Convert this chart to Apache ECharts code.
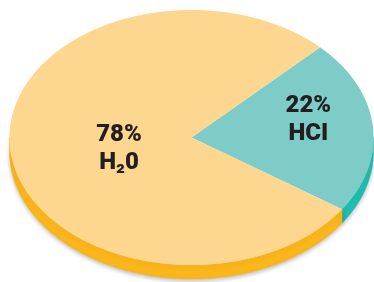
<!DOCTYPE html>
<html lang="en">
<head>
    <meta charset="utf-8" />
    <title>HCl solution</title>
    <script type="text/javascript" src="https://cdn.jsdelivr.net/npm/echarts@6/dist/echarts.min.js"></script>
    <style type="text/css">
        html, body { margin: 0; padding: 0; background: #fff; }
    </style>
</head>
<body>
    <div id="main" style="width:374px;height:282px;"></div>

    <script type="text/javascript">

        // data
        var names = ['HCI', 'H\u20820'];
        var values = [22, 78];

        // look
        var topColors = ['#7eccc7', '#fdd68f'];
        var sideColors = ['#22bdb1', '#fbb61b'];
        var labelPos = [[0.645, 0.08], [0.40, -0.05]]; // radius factor x / y

        var cx = 191.5, cy = 137.5, rx = 182, ry = 127.5, depth = 14;
        var startAngle = 45;
        var total = values.reduce(function (a, b) { return a + b; }, 0);

        function pt(t, dy) {
            var r = t * Math.PI / 180;
            return [cx + rx * Math.cos(r), cy + (dy || 0) - ry * Math.sin(r)];
        }

        function arcPts(a0, a1, dy) {
            // a0 -> a1, 1 deg steps
            var pts = [];
            var n = Math.max(2, Math.ceil(Math.abs(a1 - a0)));
            for (var i = 0; i <= n; i++) {
                pts.push(pt(a0 + (a1 - a0) * i / n, dy));
            }
            return pts;
        }

        var myChart = echarts.init(document.getElementById('main'));

        var option = {
            animation: false,
            series: [{
                type: 'custom',
                coordinateSystem: 'none',
                data: values,
                renderItem: function (params, api) {
                    var idx = params.dataIndex;
                    var before = 0;
                    for (var i = 0; i < idx; i++) before += values[i];
                    var a0 = startAngle - before / total * 360;
                    var a1 = a0 - api.value(0) / total * 360;

                    var children = [];

                    // visible side wall (front half: -180..0)
                    for (var k = -1; k <= 1; k++) {
                        var lo = Math.max(a1, -180 + k * 360);
                        var hi = Math.min(a0, 0 + k * 360);
                        if (hi > lo) {
                            var pts = arcPts(hi, lo, 0).concat(arcPts(lo, hi, depth));
                            children.push({
                                type: 'polygon',
                                shape: { points: pts },
                                style: {
                                    fill: sideColors[idx], stroke: sideColors[idx], lineWidth: 0.5,
                                    shadowBlur: 4, shadowOffsetY: 2, shadowColor: 'rgba(0,0,0,0.25)'
                                }
                            });
                        }
                    }

                    // top face
                    var face = [[cx, cy]].concat(arcPts(a0, a1, 0));
                    children.push({
                        type: 'polygon',
                        shape: { points: face },
                        style: { fill: topColors[idx] }
                    });

                    // label
                    var mid = (a0 + a1) / 2 * Math.PI / 180;
                    var lx = cx + labelPos[idx][0] * rx * Math.cos(mid);
                    var ly = cy - labelPos[idx][0] * ry * Math.sin(mid) - labelPos[idx][1] * ry;
                    var pct = Math.round(api.value(0) / total * 100) + '%';
                    children.push({
                        type: 'text',
                        style: {
                            text: pct + '\n' + names[idx],
                            x: lx,
                            y: ly,
                            align: 'center',
                            verticalAlign: 'middle',
                            fontFamily: 'Roboto',
                            fontWeight: 900,
                            fontSize: 24,
                            lineHeight: 28,
                            fill: '#231f20'
                        }
                    });

                    return { type: 'group', children: children };
                }
            }]
        };
        myChart.setOption(option);
    </script>
</body>
</html>
